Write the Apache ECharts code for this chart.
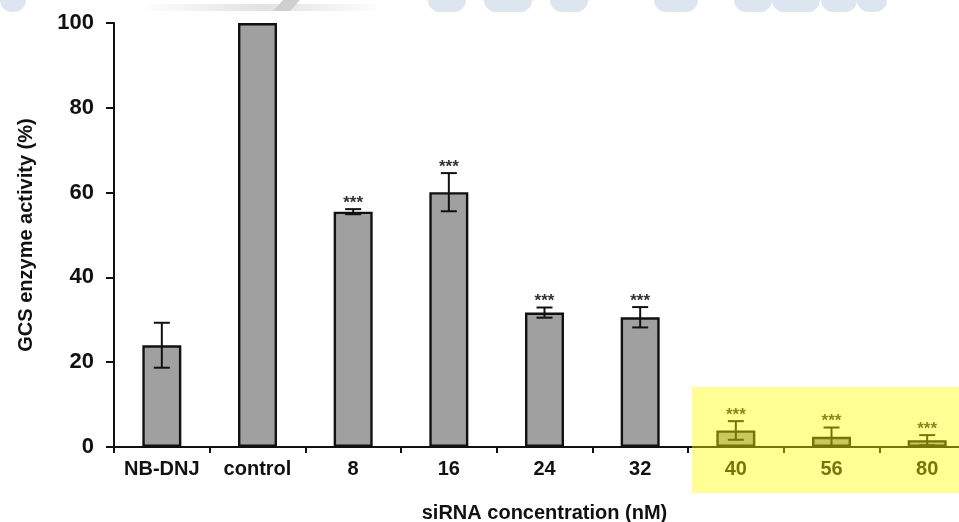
<!DOCTYPE html>
<html>
<head>
<meta charset="utf-8">
<script src="https://cdn.jsdelivr.net/npm/echarts@6/dist/echarts.min.js"></script>
<style>
  html, body { margin: 0; padding: 0; background: #ffffff; }
  #chart { width: 959px; height: 522px; }
</style>
</head>
<body>
<div id="chart"></div>
<script>
// ---- data ----
const categories = ['NB-DNJ', 'control', '8', '16', '24', '32', '40', '56', '80'];
const activity = [24.0, 100, 55.5, 60.1, 31.7, 30.6, 3.9, 2.4, 1.6];
const errors = [5.3, 0, 0.6, 4.5, 1.2, 2.4, 2.2, 2.2, 1.2];
const significance = ['', '', '***', '***', '***', '***', '***', '***', '***'];
const yTicks = [0, 20, 40, 60, 80, 100];
const highlighted = ['40', '56', '80'];

const FONT = "'Liberation Sans', Arial, sans-serif";
const chart = echarts.init(document.getElementById('chart'), null, { renderer: 'canvas' });

const errorData = categories.map((c, i) => [i, activity[i], errors[i], significance[i]]);

const option = {
  animation: false,
  backgroundColor: '#ffffff',
  grid: { left: 114, top: 23, width: 861, height: 424, containLabel: false, outerBoundsMode: 'none' },
  xAxis: {
    type: 'category',
    data: categories,
    name: 'siRNA concentration (nM)',
    nameLocation: 'middle',
    nameGap: 56,
    nameTextStyle: { fontFamily: FONT, fontSize: 20, fontWeight: 'bold', color: '#111' },
    axisLine: { lineStyle: { color: '#111', width: 2 } },
    axisTick: { show: true, inside: false, length: 6, alignWithLabel: false, lineStyle: { color: '#111', width: 2 } },
    axisLabel: { fontFamily: FONT, fontSize: 20, fontWeight: 'bold', color: '#111', margin: 12, interval: 0 },
    splitLine: { show: false }
  },
  yAxis: {
    type: 'value',
    min: yTicks[0],
    max: yTicks[yTicks.length - 1],
    interval: yTicks[1] - yTicks[0],
    name: 'GCS enzyme activity (%)',
    nameLocation: 'middle',
    nameGap: 78,
    nameRotate: 90,
    nameTextStyle: { fontFamily: FONT, fontSize: 20, fontWeight: 'bold', color: '#111' },
    axisLine: { show: true, lineStyle: { color: '#111', width: 2 } },
    axisTick: { show: true, inside: false, length: 8, lineStyle: { color: '#111', width: 2 } },
    axisLabel: { fontFamily: FONT, fontSize: 22, fontWeight: 'bold', color: '#111', margin: 20 },
    splitLine: { show: false }
  },
  series: [
    {
      type: 'bar',
      data: activity,
      barWidth: 39,
      itemStyle: { color: '#a0a0a0', borderColor: '#111', borderWidth: 2.4 },
      z: 2
    },
    {
      type: 'custom',
      data: errorData,
      z: 3,
      renderItem: function (params, api) {
        const idx = api.value(0);
        const v = api.value(1);
        const e = api.value(2);
        const sig = significance[idx];
        const children = [];
        const top = api.coord([idx, v + e]);
        const bot = api.coord([idx, Math.max(0, v - e)]);
        const cap = 8;
        if (e > 0) {
          const st = { stroke: '#111', lineWidth: 2 };
          children.push({ type: 'line', shape: { x1: top[0], y1: top[1], x2: bot[0], y2: bot[1] }, style: st });
          children.push({ type: 'line', shape: { x1: top[0] - cap, y1: top[1], x2: top[0] + cap, y2: top[1] }, style: st });
          children.push({ type: 'line', shape: { x1: bot[0] - cap, y1: bot[1], x2: bot[0] + cap, y2: bot[1] }, style: st });
        }
        if (sig) {
          children.push({
            type: 'text',
            style: {
              x: top[0], y: top[1] - 6,
              text: sig,
              fill: '#333',
              font: 'bold 17px ' + FONT,
              textAlign: 'center',
              textVerticalAlign: 'middle'
            }
          });
        }
        return { type: 'group', children: children };
      }
    }
  ]
};

chart.setOption(option);

// highlight box (translucent yellow) over the last three categories, placed from the axes;
// plus the faint watermark strip along the top edge
function addDecorations() {
  const band = chart.convertToPixel({ xAxisIndex: 0 }, categories[1]) - chart.convertToPixel({ xAxisIndex: 0 }, categories[0]);
  const firstCenter = chart.convertToPixel({ xAxisIndex: 0 }, highlighted[0]);
  const y0 = chart.convertToPixel({ yAxisIndex: 0 }, 0);
  const left = firstCenter - band / 2 + 4;
  const watermark = '#dde5f1';
  const blobs = [[0, 26], [428, 38], [484, 48], [550, 38], [654, 44], [734, 38], [772, 48], [821, 36], [857, 30]];
  const wm = blobs.map(b => ({
    type: 'rect', shape: { x: b[0], y: 0, width: b[1], height: 12, r: [0, 0, 12, 12] },
    style: { fill: watermark }, z: 0, silent: true
  }));
  wm.push({
    type: 'rect', shape: { x: 140, y: 4, width: 245, height: 7 },
    style: {
      fill: new echarts.graphic.LinearGradient(0, 0, 1, 0, [
        { offset: 0, color: 'rgba(225,225,225,0)' },
        { offset: 0.5, color: 'rgba(225,225,225,1)' },
        { offset: 1, color: 'rgba(225,225,225,0)' }
      ])
    }, z: 0, silent: true
  });
  wm.push({
    type: 'polygon', shape: { points: [[283, 0], [300, 0], [290, 11], [273, 11]] },
    style: { fill: '#cfcfcf' }, z: 0, silent: true
  });
  chart.setOption({
    graphic: wm.concat([
      {
        type: 'rect',
        shape: { x: left, y: y0 - 60, width: 959 - left + 5, height: 106 },
        style: { fill: 'rgba(255,255,0,0.42)' },
        z: 100,
        silent: true
      }
    ])
  });
}
addDecorations();
</script>
</body>
</html>
